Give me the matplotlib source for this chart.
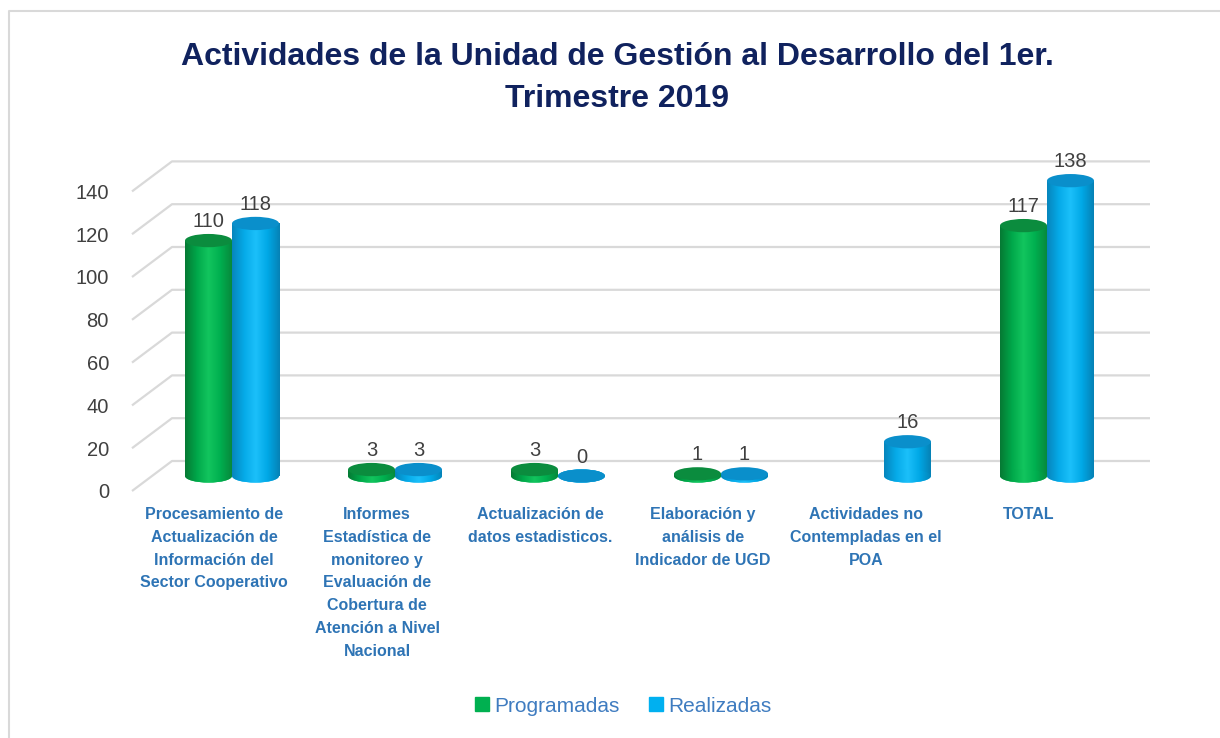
import matplotlib
matplotlib.use('Agg')
import matplotlib.pyplot as plt
import numpy as np
from matplotlib.patches import Ellipse
from matplotlib.colors import LinearSegmentedColormap
from matplotlib.lines import Line2D

plt.rcParams['font.family'] = ['Liberation Sans', 'DejaVu Sans']

# data
categories = [
    'Procesamiento de\nActualización de\nInformación del\nSector Cooperativo',
    'Informes\nEstadística de\nmonitoreo y\nEvaluación de\nCobertura de\nAtención a Nivel\nNacional',
    'Actualización de\ndatos estadisticos.',
    'Elaboración y\nanálisis de\nIndicador de UGD',
    'Actividades no\nContempladas en el\nPOA',
    'TOTAL',
]
programadas = [110, 3, 3, 1, np.nan, 117]
realizadas = [118, 3, 0, 1, 16, 138]
series_names = ['Programadas', 'Realizadas']
y_ticks = [0, 20, 40, 60, 80, 100, 120, 140]

GREEN = '#00B050'
BLUE = '#00B0F0'
GREEN_CAP = '#0B8C3E'
BLUE_CAP = '#0A8FCB'
GRID = '#D9D9D9'
TITLE_C = '#10225E'
CAT_C = '#2E74B5'
LEG_C = '#3F7CC0'
TICK_C = '#404040'

green_cm = LinearSegmentedColormap.from_list('g', ['#067a34', '#00A84A', '#12C55E', '#00B050', '#078a3c'])
blue_cm = LinearSegmentedColormap.from_list('b', ['#0786bd', '#05AAE8', '#1CC0FA', '#00A8E6', '#0682b6'])

W, H = 1220, 738
fig = plt.figure(figsize=(W / 100, H / 100), dpi=100)
fig.patch.set_facecolor('white')

# pixel box of the plotting area
px_l, px_r, px_t, px_b = 120, 1170, 140, 500
ax = fig.add_axes([px_l / W, (H - px_b) / H, (px_r - px_l) / W, (px_b - px_t) / H])
for s in ax.spines.values():
    s.set_visible(False)

# pseudo 3D depth
dx, dy = 40 / 163, 30 / 2.14
x_wall = (172 - 232) / 163
x_end = (1150 - 232) / 163
for t in y_ticks:
    ax.plot([x_wall - dx, x_wall, x_end], [t - dy, t, t], color=GRID, lw=1.6,
            solid_capstyle='butt', zorder=1)

ax.set_yticks([t - dy for t in y_ticks])
ax.set_yticklabels([str(t) for t in y_ticks])
ax.tick_params(axis='y', length=0, pad=8, labelsize=14.5, labelcolor=TICK_C)

x = np.arange(len(categories))
ax.set_xticks(x - 0.11)
ax.set_xticklabels(categories, fontsize=11.5, fontweight='bold', color=CAT_C,
                   linespacing=1.65, va='top')
ax.tick_params(axis='x', length=0, pad=5)

bw = 47 / 163
base = -7.0
eh = 6.2


def cylinder(xc, val, cmap, cap):
    if np.isnan(val):
        return
    bars = ax.bar([xc], [val], bottom=base, width=bw, color=cmap(0.5), lw=0, zorder=3)
    grad = np.linspace(0, 1, 64).reshape(1, -1)
    rect = bars[0]
    im = ax.imshow(grad, cmap=cmap, aspect='auto', zorder=3,
                   extent=(xc - bw / 2, xc + bw / 2, base - eh / 2, base + val))
    im.set_clip_path(rect)
    bot = Ellipse((xc, base), bw, eh, lw=0, facecolor=cmap(0.5), zorder=2.9)
    ax.add_patch(bot)
    im2 = ax.imshow(grad, cmap=cmap, aspect='auto', zorder=3,
                    extent=(xc - bw / 2, xc + bw / 2, base - eh / 2, base + eh / 2))
    im2.set_clip_path(bot)
    top = Ellipse((xc, base + val), bw, eh, lw=0, facecolor=cap, zorder=3.2)
    ax.add_patch(top)
    ax.annotate(f'{val:g}', (xc, base + val + eh / 2), xytext=(0, 2),
                textcoords='offset points', ha='center', va='bottom',
                fontsize=14.5, color=TICK_C, zorder=5)


for i in range(len(categories)):
    cylinder(x[i] - bw / 2, programadas[i], green_cm, GREEN_CAP)
    cylinder(x[i] + bw / 2, realizadas[i], blue_cm, BLUE_CAP)

ax.set_xlim((px_l - 232) / 163, (px_r - 232) / 163)
ax.set_ylim((461 - px_b) / 2.14, (461 - px_t) / 2.14)

# title
fig.text(617 / W, 1 - 78 / H, 'Actividades de la Unidad de Gestión al Desarrollo del 1er.\nTrimestre 2019',
         ha='center', va='center', fontsize=23, fontweight='bold', color=TITLE_C, linespacing=1.5)

# legend
handles = [Line2D([], [], marker='s', ls='', markersize=10, color=c, label=n)
           for c, n in zip([GREEN, BLUE], series_names)]
fig.legend(handles=handles, loc='center', bbox_to_anchor=(623 / W, 1 - 706 / H), ncol=2,
           frameon=False, fontsize=15, labelcolor=LEG_C, handlelength=0.7,
           handletextpad=0.25, columnspacing=1.4)

# outer border (top and left)
fig.add_artist(Line2D([9 / W, 9 / W, 1], [0, 1 - 11 / H, 1 - 11 / H], color=GRID, lw=1.5))

fig.savefig('out.png', dpi=100, facecolor='white')
